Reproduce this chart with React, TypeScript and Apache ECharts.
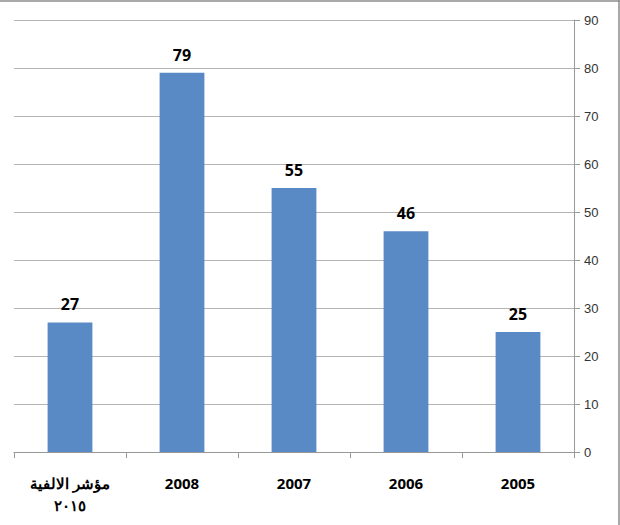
import React, { useEffect, useRef } from 'react';
import * as echarts from 'echarts';

const categories = ['مؤشر الالفية\n٢٠١٥', '2008', '2007', '2006', '2005'];
const values = [27, 79, 55, 46, 25];
const yMax = 90;
const yStep = 10;

const App: React.FC = () => {
  const chartRef = useRef<HTMLDivElement | null>(null);

  useEffect(() => {
    if (!chartRef.current) return;
    const chart = echarts.init(chartRef.current, null, { renderer: 'svg' });

    chart.setOption({
      animation: false,
      backgroundColor: '#ffffff',
      grid: { left: 14, right: 46, top: 20, bottom: 73 },
      graphic: [
        { type: 'line', shape: { x1: 0, y1: 1, x2: 620, y2: 1 }, style: { stroke: '#8c8c8c', lineWidth: 1.5 } },
        { type: 'line', shape: { x1: 619, y1: 0, x2: 619, y2: 525 }, style: { stroke: '#8c8c8c', lineWidth: 1.5 } },
      ],
      xAxis: {
        type: 'category',
        data: categories,
        axisLine: { show: true, lineStyle: { color: '#999999' } },
        axisTick: { show: true, alignWithLabel: false, length: 6, lineStyle: { color: '#999999' } },
        axisLabel: {
          color: '#000000',
          fontWeight: 'bold',
          fontSize: 15,
          fontFamily: 'Open Sans',
          margin: 20,
          lineHeight: 22,
        },
      },
      yAxis: {
        type: 'value',
        position: 'right',
        min: 0,
        max: yMax,
        interval: yStep,
        axisLine: { show: true, lineStyle: { color: '#999999' } },
        axisTick: { show: true, length: 6, lineStyle: { color: '#999999' } },
        axisLabel: { color: '#333333', fontSize: 13, fontFamily: 'Liberation Sans', margin: 10 },
        splitLine: { show: true, lineStyle: { color: '#b4b4b4' } },
      },
      series: [
        {
          type: 'bar',
          data: values,
          barWidth: '40%',
          itemStyle: { color: '#5a8ac6' },
          label: {
            show: true,
            position: 'top',
            distance: 10,
            color: '#000000',
            fontWeight: 'bold',
            fontSize: 16,
            fontFamily: 'Open Sans',
          },
        },
      ],
    });

    return () => {
      chart.dispose();
    };
  }, []);

  return (
    <div
      ref={chartRef}
      style={{ position: 'fixed', left: 0, top: 0, width: '620px', height: '525px' }}
    />
  );
};

export default App;
